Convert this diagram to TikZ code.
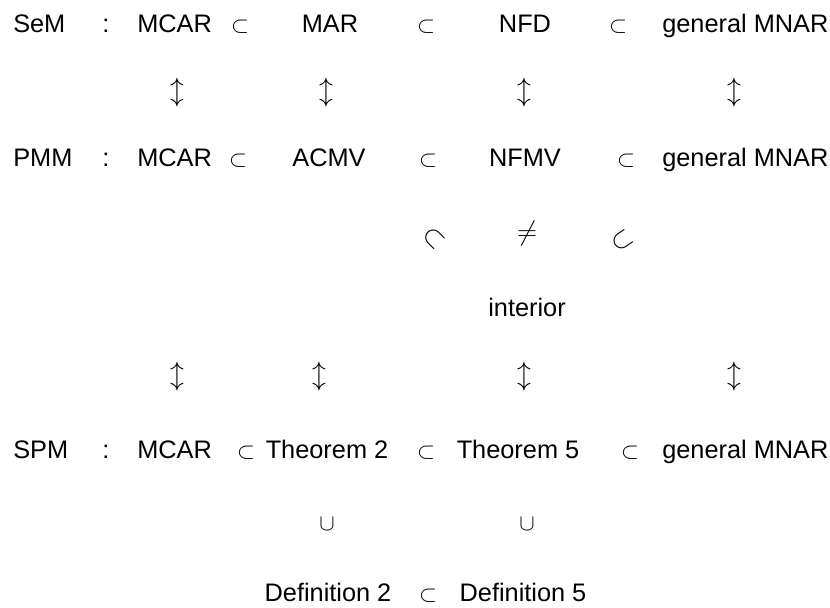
\documentclass[tikz,border=0pt]{standalone}
\usepackage{fontspec}
\setmainfont{Liberation Sans}
\begin{document}
\begin{tikzpicture}[x=0.75pt,y=-0.75pt,
  txt/.style={font=\fontsize{19}{22}\selectfont, inner sep=0pt, anchor=base},
  lbl/.style={txt, anchor=base west},
  sub/.style={font=\fontsize{16}{16}\selectfont, inner sep=0pt, anchor=base},
  bigsub/.style={font=\fontsize{20}{20}\selectfont, inner sep=0pt},
  cupsym/.style={font=\fontsize{16}{16}\selectfont, inner sep=0pt},
  arr/.style={font=\fontsize{21}{21}\selectfont, inner sep=0pt},
  neqsym/.style={font=\fontsize{20}{20}\selectfont, inner sep=0pt}]
\useasboundingbox (0,0) rectangle (830,607);
% Row 1: SeM
\node[lbl] (sem) at (13,32) {SeM};
\node[txt] (semc) at (106,32) {:};
\node[lbl] (sem1) at (137,32) {MCAR};
\node[sub] (sems1) at (240,32) {$\subset$};
\node[txt] (sem2) at (330,32) {MAR};
\node[sub] (sems2) at (426,32) {$\subset$};
\node[txt] (sem3) at (525,32) {NFD};
\node[sub] (sems3) at (618,32) {$\subset$};
\node[lbl] (sem4) at (662,32) {general MNAR};
% arrows 1
\node[arr] (ua1) at (177,93) {$\updownarrow$};
\node[arr] (ua2) at (326,93) {$\updownarrow$};
\node[arr] (ua3) at (524,93) {$\updownarrow$};
\node[arr] (ua4) at (734,93) {$\updownarrow$};
% Row 2: PMM
\node[lbl] (pmm) at (13,166) {PMM};
\node[txt] (pmmc) at (106,166) {:};
\node[lbl] (pmm1) at (137,166) {MCAR};
\node[sub] (pmms1) at (238,166) {$\subset$};
\node[txt] (pmm2) at (329,166) {ACMV};
\node[sub] (pmms2) at (428,166) {$\subset$};
\node[txt] (pmm3) at (525,166) {NFMV};
\node[sub] (pmms3) at (626,166) {$\subset$};
\node[lbl] (pmm4) at (662,166) {general MNAR};
% relations to interior
\node[bigsub, rotate=-45] (r1) at (434,238) {$\subset$};
\node[neqsym] (ne) at (527,234) {$\neq$};
\node[bigsub, rotate=35] (r2) at (622,241) {$\subset$};
\node[txt] (int) at (527,316) {interior};
% arrows 2
\node[arr] (la1) at (177,377) {$\updownarrow$};
\node[arr] (la2) at (319,377) {$\updownarrow$};
\node[arr] (la3) at (524,377) {$\updownarrow$};
\node[arr] (la4) at (734,377) {$\updownarrow$};
% Row 3: SPM
\node[lbl] (spm) at (13,458) {SPM};
\node[txt] (spmc) at (106,458) {:};
\node[lbl] (spm1) at (137,458) {MCAR};
\node[sub] (spms1) at (246,458) {$\subset$};
\node[txt] (spm2) at (327,458) {Theorem 2};
\node[sub] (spms2) at (426,458) {$\subset$};
\node[txt] (spm3) at (518,458) {Theorem 5};
\node[sub] (spms3) at (630,458) {$\subset$};
\node[lbl] (spm4) at (662,458) {general MNAR};
% cups
\node[cupsym] (cu1) at (327,524) {$\cup$};
\node[cupsym] (cu2) at (527,524) {$\cup$};
% Definitions
\node[txt] (def2) at (328,601) {Definition 2};
\node[sub] (defs) at (428,601) {$\subset$};
\node[txt] (def5) at (523,601) {Definition 5};
\end{tikzpicture}
\end{document}
